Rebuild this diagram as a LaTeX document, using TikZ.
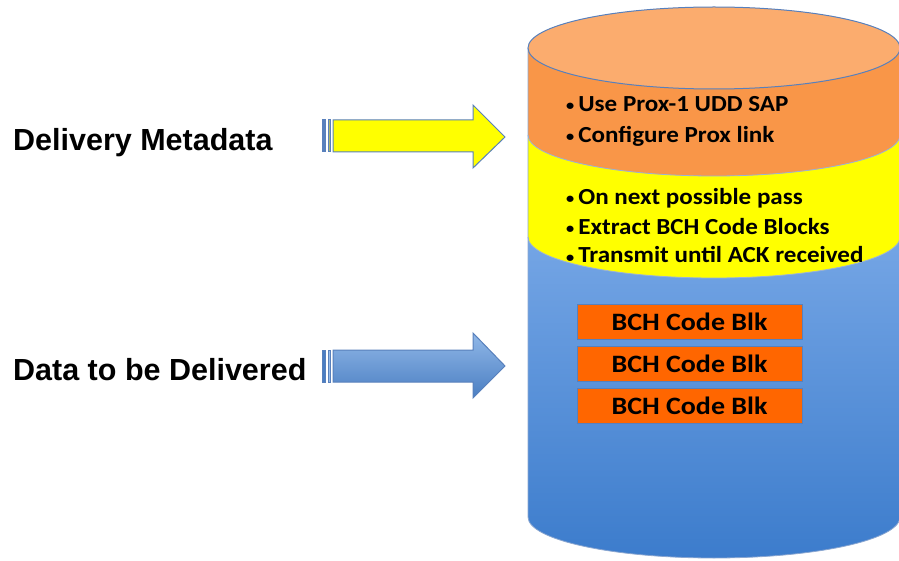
\documentclass[tikz,border=0pt]{standalone}
\usepackage{fontspec}
\setmainfont{Carlito}
\newfontfamily\labelfont{Liberation Sans}
\newfontfamily\wideboxfont[FakeStretch=1.09]{Carlito}
\newfontfamily\blkfont[FakeStretch=1.12]{Carlito}
\newcommand{\smallbul}{{\fontsize{15}{15}\selectfont\raisebox{1pt}{•}}\hspace{4pt}}

\definecolor{edgeblue}{RGB}{88,128,188}
\definecolor{toporange}{RGB}{251,172,110}
\definecolor{bandorange}{RGB}{249,150,72}
\definecolor{bandyellow}{RGB}{255,255,0}
\definecolor{blkorange}{RGB}{255,102,0}
\definecolor{blklight}{RGB}{150,190,244}
\definecolor{blkdark}{RGB}{60,124,204}
\definecolor{arrowlight}{RGB}{145,184,232}
\definecolor{arrowdark}{RGB}{74,126,194}
\definecolor{stripeolive}{RGB}{170,180,110}

\tikzset{
  sidelabel/.style={font=\labelfont\bfseries\fontsize{30.5}{34}\selectfont, anchor=base west, inner sep=0pt},
  bullettext/.style={font=\wideboxfont\bfseries\fontsize{23}{26}\selectfont, anchor=base west, inner sep=0pt},
  codeblk/.style={draw=edgeblue, line width=1pt, fill=blkorange, minimum width=225pt, minimum height=35pt,
    inner sep=0pt, font=\blkfont\bfseries\fontsize{25}{28}\selectfont},
  arrowedge/.style={draw=edgeblue, line width=1pt},
}

\begin{document}
\begin{tikzpicture}[x=1pt,y=-1pt]
\useasboundingbox (0,0) rectangle (899,561);
\begin{scope}
\clip (0,0) rectangle (899,561);
% cylinder body with bottom rim
\path[top color=blklight, bottom color=blkdark]
  (528,48) -- (528,517) arc[start angle=180,end angle=0,x radius=186,y radius=41] -- (900,48) -- cycle;
% yellow band
\fill[bandyellow] (528,48) -- (528,237) arc[start angle=180,end angle=0,x radius=186,y radius=41] -- (900,48) -- cycle;
\draw[edgeblue!60, line width=0.8pt] (528,237) arc[start angle=180,end angle=0,x radius=186,y radius=41];
% orange band
\fill[bandorange] (528,48) -- (528,135) arc[start angle=180,end angle=0,x radius=186,y radius=41] -- (900,48) -- cycle;
\draw[edgeblue!60, line width=0.8pt] (528,135) arc[start angle=180,end angle=0,x radius=186,y radius=41];
% outline of the side and bottom
\draw[edgeblue!70, line width=0.8pt] (528,48) -- (528,517) arc[start angle=180,end angle=0,x radius=186,y radius=41] -- (900,48);
% top lid
\draw[edgeblue, line width=1pt, fill=toporange] (714,48) ellipse[x radius=186, y radius=41];
\end{scope}

% text in the orange band
\node[bullettext] (t1) at (566,112) {\smallbul Use Prox-1 UDD SAP};
\node[bullettext] (t2) at (566,143) {\smallbul Configure Prox link};
% text in the yellow band
\node[bullettext] (t3) at (566,205) {\smallbul On next possible pass};
\node[bullettext] (t4) at (566,235) {\smallbul Extract BCH Code Blocks};
\node[bullettext] (t5) at (566,263) {\smallbul Transmit until ACK received};

% code blocks
\node[codeblk] (b1) at (689.5,321.5) {BCH Code Blk};
\node[codeblk] (b2) at (689.5,364) {BCH Code Blk};
\node[codeblk] (b3) at (689.5,405.5) {BCH Code Blk};

% side labels
\node[sidelabel] (meta) at (13,151) {Delivery Metadata};
\node[sidelabel] (data) at (13,380) {Data to be Delivered};

% striped arrow for the metadata
\draw[arrowedge, fill=edgeblue] (322,120) rectangle (325,152);
\draw[arrowedge, fill=stripeolive] (328.5,120) rectangle (330,152);
\draw[arrowedge, fill=bandyellow] (333,120) -- (473,120) -- (473,105) -- (505,137) -- (473,168) -- (473,152) -- (333,152) -- cycle;

% striped arrow for the data
\draw[arrowedge, fill=arrowdark] (322,350) rectangle (325,382);
\draw[arrowedge, fill=arrowlight] (328.5,350) rectangle (330,382);
\draw[arrowedge, top color=arrowlight, bottom color=arrowdark] (333,350) -- (473,350) -- (473,333) -- (505,366) -- (473,398) -- (473,382) -- (333,382) -- cycle;
\end{tikzpicture}
\end{document}
